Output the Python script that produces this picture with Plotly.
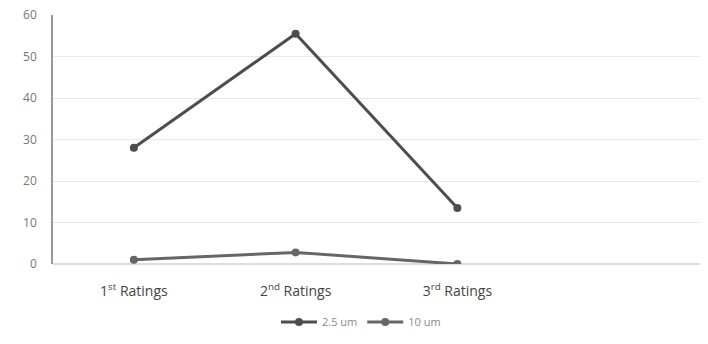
import plotly.graph_objects as go

categories = ["1<sup>st</sup> Ratings", "2<sup>nd</sup> Ratings", "3<sup>rd</sup> Ratings"]
series_25um = [28, 55.5, 13.5]
series_10um = [1, 2.8, 0]
y_ticks = [0, 10, 20, 30, 40, 50, 60]

x_pos = list(range(len(categories)))

fig = go.Figure()
fig.add_trace(go.Scatter(
    x=x_pos, y=series_25um, name="2.5 um", mode="lines+markers",
    line=dict(color="#4d4d4d", width=3),
    marker=dict(color="#4d4d4d", size=8),
))
fig.add_trace(go.Scatter(
    x=x_pos, y=series_10um, name="10 um", mode="lines+markers",
    line=dict(color="#666666", width=3),
    marker=dict(color="#666666", size=8),
))

fig.update_layout(
    width=708, height=344,
    margin=dict(l=53, r=8, t=15, b=80, autoexpand=False),
    paper_bgcolor="white", plot_bgcolor="white",
    font=dict(family="Open Sans, Liberation Sans, sans-serif", size=11, color="#555555"),
    showlegend=True,
    legend=dict(orientation="h", x=0.476, xanchor="center", y=-0.233, yanchor="middle",
                font=dict(size=11, color="#888888"), itemwidth=36),
    xaxis=dict(
        range=[-0.5, 3.5], tickvals=x_pos, ticktext=categories,
        showgrid=False, zeroline=False, showline=False, ticks="",
        tickfont=dict(size=14, color="#444444"), ticklabelstandoff=17,
    ),
    yaxis=dict(
        range=[0, 60], tickvals=y_ticks, showgrid=True, gridcolor="#e8e8e8",
        zeroline=True, zerolinecolor="#dddddd", showline=True, linecolor="#999999",
        linewidth=1.5, ticks="", tickfont=dict(size=12, color="#777777"),
        ticklabelstandoff=12,
    ),
)

fig.write_html("out.html")
